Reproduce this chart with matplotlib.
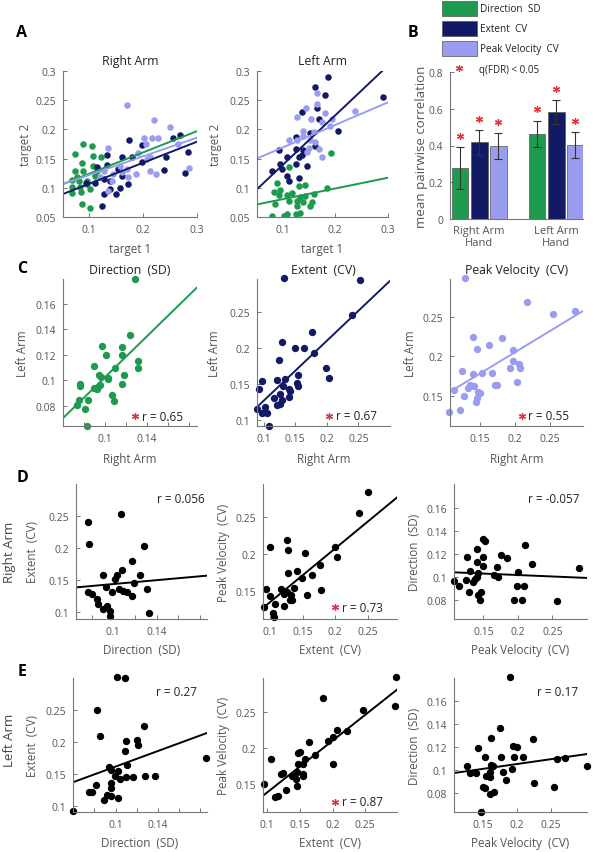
import numpy as np
import matplotlib.pyplot as plt
from matplotlib.patches import Rectangle

plt.rcParams['font.family'] = ['Open Sans', 'DejaVu Sans']

GREEN = '#1d9a4e'
NAVY = '#121a66'
LIGHT = '#9a9cf0'
RED = '#e0303a'

# ---- A: target 1 vs target 2 ----
a_right_dir_x = [0.074, 0.0895, 0.106, 0.108, 0.122, 0.088, 0.074, 0.0895, 0.108, 0.069, 0.082, 0.096, 0.111,
                 0.068, 0.083, 0.096, 0.068, 0.086, 0.088, 0.102, 0.077, 0.114, 0.102]
a_right_dir_y = [0.158, 0.175, 0.171, 0.154, 0.152, 0.142, 0.128, 0.128, 0.138, 0.113, 0.111, 0.111, 0.121,
                 0.102, 0.102, 0.107, 0.091, 0.092, 0.073, 0.065, 0.118, 0.129, 0.098]
a_right_ext_x = [0.175, 0.198, 0.256, 0.268, 0.284, 0.243, 0.133, 0.161, 0.179, 0.198, 0.154, 0.133, 0.114,
                 0.094, 0.111, 0.127, 0.161, 0.139, 0.173, 0.127, 0.151, 0.238, 0.278, 0.125, 0.139, 0.157]
a_right_ext_y = [0.182, 0.174, 0.185, 0.191, 0.161, 0.153, 0.156, 0.153, 0.152, 0.144, 0.132, 0.139, 0.136,
                 0.109, 0.109, 0.115, 0.121, 0.111, 0.107, 0.089, 0.089, 0.130, 0.126, 0.069, 0.098, 0.100]
a_right_pv_x = [0.171, 0.220, 0.250, 0.201, 0.216, 0.228, 0.206, 0.136, 0.191, 0.207, 0.265, 0.286, 0.145,
                0.161, 0.170, 0.188, 0.213, 0.225, 0.142, 0.136, 0.120, 0.173, 0.157, 0.127, 0.213]
a_right_pv_y = [0.242, 0.216, 0.204, 0.185, 0.185, 0.185, 0.175, 0.168, 0.159, 0.149, 0.175, 0.134, 0.124,
                0.127, 0.132, 0.123, 0.128, 0.124, 0.111, 0.095, 0.118, 0.118, 0.138, 0.128, 0.152]

a_left_dir_x = [0.192, 0.112, 0.090, 0.131, 0.143, 0.184, 0.084, 0.096, 0.093, 0.109, 0.118, 0.134, 0.143,
                0.159, 0.087, 0.112, 0.128, 0.140, 0.156, 0.128, 0.153, 0.081, 0.103, 0.109, 0.125, 0.134]
a_left_dir_y = [0.160, 0.136, 0.108, 0.103, 0.105, 0.099, 0.093, 0.097, 0.088, 0.088, 0.091, 0.085, 0.086,
                0.089, 0.072, 0.078, 0.078, 0.075, 0.076, 0.069, 0.068, 0.052, 0.052, 0.055, 0.055, 0.057]
a_left_ext_x = [0.187, 0.162, 0.180, 0.290, 0.165, 0.137, 0.169, 0.206, 0.125, 0.153, 0.162, 0.093, 0.125,
                0.140, 0.109, 0.131, 0.096, 0.081, 0.099, 0.125, 0.147, 0.109, 0.131, 0.112, 0.137]
a_left_ext_y = [0.289, 0.272, 0.259, 0.256, 0.236, 0.229, 0.218, 0.197, 0.187, 0.193, 0.171, 0.165, 0.166,
                0.164, 0.152, 0.152, 0.141, 0.129, 0.132, 0.141, 0.138, 0.121, 0.116, 0.112, 0.157]
a_left_pv_x = [0.165, 0.165, 0.145, 0.128, 0.155, 0.180, 0.194, 0.175, 0.191, 0.140, 0.112, 0.128, 0.153,
               0.162, 0.150, 0.169, 0.147, 0.175, 0.238, 0.140, 0.159]
a_left_pv_y = [0.262, 0.244, 0.236, 0.221, 0.218, 0.228, 0.218, 0.213, 0.205, 0.198, 0.181, 0.181, 0.181,
               0.178, 0.168, 0.166, 0.161, 0.152, 0.232, 0.189, 0.195]

# regression lines (slope, intercept) for Direction, Extent, Peak Velocity
a_right_fits = [(0.365, 0.0875), (0.361, 0.0706), (0.320, 0.0898)]
a_left_fits = [(0.184, 0.062), (0.854, 0.0532), (0.388, 0.130)]

# ---- B: mean pairwise correlation ----
b_groups = ['Right Arm\nHand', 'Left Arm\nHand']
b_measures = ['Direction  SD', 'Extent  CV', 'Peak Velocity  CV']
b_means = [[0.278, 0.464], [0.418, 0.582], [0.396, 0.404]]
b_errs = [[0.113, 0.072], [0.068, 0.066], [0.072, 0.07]]

# ---- C: right arm vs left arm ----
c_dir_x = [0.1286, 0.1238, 0.0975, 0.116, 0.101, 0.0895, 0.1165, 0.1095, 0.0946, 0.0962, 0.103, 0.131, 0.1314,
           0.0762, 0.0762, 0.0898, 0.0952, 0.103, 0.118, 0.1165, 0.107, 0.1086, 0.0752, 0.0841, 0.081, 0.0736,
           0.092, 0.0832]
c_dir_y = [0.1798, 0.136, 0.127, 0.126, 0.1196, 0.111, 0.120, 0.110, 0.104, 0.103, 0.102, 0.115, 0.110,
           0.0974, 0.0955, 0.0942, 0.0966, 0.1008, 0.104, 0.0976, 0.0885, 0.0838, 0.085, 0.085, 0.078, 0.081,
           0.093, 0.0642]
c_ext_x = [0.132, 0.252, 0.240, 0.176, 0.129, 0.149, 0.164, 0.179, 0.125, 0.199, 0.204, 0.155, 0.134, 0.122,
           0.098, 0.093, 0.153, 0.155, 0.130, 0.1395, 0.126, 0.142, 0.1395, 0.117, 0.129, 0.126, 0.121, 0.103,
           0.0896, 0.0975, 0.1054, 0.108]
c_ext_y = [0.297, 0.294, 0.246, 0.222, 0.208, 0.200, 0.200, 0.193, 0.184, 0.173, 0.158, 0.163, 0.157, 0.156,
           0.154, 0.144, 0.151, 0.147, 0.148, 0.143, 0.136, 0.141, 0.132, 0.1315, 0.128, 0.122, 0.121, 0.1185,
           0.116, 0.1097, 0.1107, 0.092]
c_pv_x = [0.1286, 0.2167, 0.2547, 0.2857, 0.1396, 0.181, 0.1633, 0.146, 0.1967, 0.1976, 0.2061, 0.2071, 0.1929,
          0.1239, 0.1396, 0.1524, 0.1667, 0.1714, 0.1747, 0.2024, 0.1357, 0.1419, 0.1333, 0.1476, 0.150, 0.1129,
          0.1271, 0.1462, 0.1438, 0.1214, 0.1062]
c_pv_y = [0.299, 0.2694, 0.2538, 0.258, 0.2243, 0.223, 0.2146, 0.2095, 0.208, 0.1947, 0.1905, 0.185, 0.1854,
          0.1813, 0.1778, 0.1787, 0.1787, 0.1639, 0.1639, 0.168, 0.1639, 0.1623, 0.1597, 0.1547, 0.1538, 0.1576,
          0.1504, 0.1471, 0.1428, 0.1323, 0.1301]
c_fits = [(0.803, 0.0223), (0.833, 0.0436), (0.538, 0.0978)]
c_r = ['r = 0.65', 'r = 0.67', 'r = 0.55']

# ---- D: right arm, between measures ----
d_dir_ext_x = [0.077, 0.0779, 0.1071, 0.1286, 0.117, 0.0908, 0.1037, 0.1016, 0.1083, 0.1246, 0.0933, 0.0985,
               0.1052, 0.1092, 0.1123, 0.117, 0.1191, 0.1308, 0.077, 0.0801, 0.0847, 0.0862, 0.0908, 0.0939,
               0.097, 0.097, 0.1332]
d_dir_ext_y = [0.2406, 0.2058, 0.2527, 0.2022, 0.1797, 0.1578, 0.1578, 0.151, 0.1656, 0.1578, 0.1381, 0.1303,
               0.1355, 0.1328, 0.1303, 0.125, 0.1448, 0.1355, 0.1313, 0.1277, 0.1198, 0.112, 0.1042, 0.1094,
               0.1016, 0.0938, 0.098]
d_ext_pv_x = [0.2495, 0.2367, 0.1257, 0.0998, 0.1283, 0.154, 0.1989, 0.2031, 0.1768, 0.1423, 0.1277, 0.1639,
              0.1485, 0.0947, 0.1175, 0.137, 0.1268, 0.1319, 0.1215, 0.1783, 0.1562, 0.0998, 0.1308, 0.1345,
              0.1087, 0.1215, 0.0916, 0.1051, 0.1071]
d_ext_pv_y = [0.2849, 0.2555, 0.2195, 0.210, 0.2059, 0.2014, 0.210, 0.1969, 0.1854, 0.1772, 0.1741, 0.1714,
              0.1683, 0.1537, 0.1533, 0.1546, 0.1486, 0.1455, 0.1469, 0.1523, 0.1455, 0.1432, 0.1377, 0.1377,
              0.1332, 0.1305, 0.1287, 0.1206, 0.1151]
d_pv_dir_x = [0.150, 0.1525, 0.2104, 0.1413, 0.1259, 0.1491, 0.1752, 0.1839, 0.2201, 0.2891, 0.1413, 0.1694,
              0.1491, 0.1307, 0.1655, 0.1717, 0.1999, 0.1404, 0.1428, 0.1346, 0.138, 0.108, 0.1148, 0.1245,
              0.1293, 0.1462, 0.1428, 0.1452, 0.1984, 0.2094, 0.1949, 0.2057, 0.2572]
d_pv_dir_y = [0.1328, 0.1308, 0.1278, 0.1241, 0.1169, 0.1169, 0.1189, 0.1163, 0.111, 0.1078, 0.113, 0.1087,
              0.1096, 0.1052, 0.1017, 0.0995, 0.1038, 0.100, 0.1032, 0.0951, 0.098, 0.096, 0.0922, 0.0974,
              0.087, 0.087, 0.0841, 0.080, 0.0922, 0.0922, 0.080, 0.080, 0.0786]
d_fits = [(0.152, 0.128), (0.731, 0.0619), (-0.0253, 0.1065)]
d_r = ['r = 0.056', 'r = 0.73', 'r = -0.057']

# ---- E: left arm, between measures ----
e_dir_ext_x = [0.1016, 0.1085, 0.0825, 0.1274, 0.0858, 0.1101, 0.1205, 0.1211, 0.1094, 0.1107, 0.0943, 0.0959,
               0.1028, 0.0991, 0.1038, 0.1101, 0.1164, 0.128, 0.1377, 0.1856, 0.0959, 0.0811, 0.0959, 0.0745,
               0.0777, 0.0922, 0.0953, 0.0887, 0.1023, 0.0598]
e_dir_ext_y = [0.3013, 0.2988, 0.250, 0.2242, 0.2096, 0.2019, 0.2034, 0.1952, 0.1863, 0.1646, 0.1606, 0.1568,
               0.1553, 0.1475, 0.1424, 0.145, 0.145, 0.1475, 0.1475, 0.1745, 0.1362, 0.1335, 0.128, 0.1217,
               0.1227, 0.118, 0.1165, 0.1098, 0.1124, 0.0922]
e_ext_pv_x = [0.0944, 0.1065, 0.1115, 0.1166, 0.1218, 0.1244, 0.1295, 0.1372, 0.1474, 0.1474, 0.2977, 0.2951,
              0.2474, 0.2218, 0.2074, 0.2013, 0.1926, 0.1849, 0.1638, 0.1731, 0.2003, 0.150, 0.1577, 0.1551,
              0.1449, 0.1541, 0.1551, 0.1438, 0.1449]
e_ext_pv_y = [0.150, 0.185, 0.1315, 0.133, 0.164, 0.166, 0.142, 0.1616, 0.194, 0.178, 0.2999, 0.2585, 0.2538,
              0.2236, 0.2254, 0.2152, 0.2105, 0.2697, 0.2091, 0.1905, 0.178, 0.1943, 0.1849, 0.178, 0.1663,
              0.164, 0.1608, 0.157, 0.1477]
e_pv_dir_x = [0.189, 0.1754, 0.1623, 0.1427, 0.1525, 0.1759, 0.1949, 0.1939, 0.2003, 0.2231, 0.1272, 0.1306,
              0.1404, 0.1623, 0.1646, 0.1598, 0.155, 0.1598, 0.1792, 0.1832, 0.193, 0.150, 0.1525, 0.1598,
              0.1656, 0.1477, 0.2246, 0.2548, 0.2588, 0.2709, 0.3026, 0.2085]
e_pv_dir_y = [0.1811, 0.1365, 0.1278, 0.1189, 0.111, 0.1116, 0.1116, 0.1211, 0.1203, 0.127, 0.1037, 0.0974,
              0.0974, 0.1046, 0.1037, 0.098, 0.095, 0.0937, 0.0985, 0.0913, 0.1009, 0.085, 0.0841, 0.0791,
              0.0811, 0.0637, 0.0887, 0.085, 0.1096, 0.1104, 0.1032, 0.1116]
e_fits = [(0.604, 0.1012), (0.721, 0.0663), (0.0846, 0.0883)]
e_r = ['r = 0.27', 'r = 0.87', 'r = 0.17']

W, H = 593, 853
fig = plt.figure(figsize=(W / 100, H / 100), dpi=100)

TICK_FS = 7.5
LAB_FS = 8.4
TITLE_FS = 8.8


def box(l, t, r, b):
    return fig.add_axes([l / W, 1 - b / H, (r - l) / W, (b - t) / H])


def style(ax, l, t, r, b, xl=None, yl=None, yfs=LAB_FS):
    for s in ['top', 'right']:
        ax.spines[s].set_visible(False)
    for s in ['left', 'bottom']:
        ax.spines[s].set_color('#777777')
        ax.spines[s].set_linewidth(0.8)
    ax.tick_params(direction='in', length=3, width=0.7, colors='#777777', labelcolor='#555555',
                   labelsize=TICK_FS)
    ax.tick_params(axis='y', pad=5)
    ax.tick_params(axis='x', pad=5)
    if xl is not None:
        ax.set_xlabel(xl[0], fontsize=LAB_FS, color='#555555', va='center')
        ax.xaxis.set_label_coords(0.5, (b - xl[1]) / (b - t))
    if yl is not None:
        ax.set_ylabel(yl[0], fontsize=yfs, color='#555555', va='center')
        ax.yaxis.set_label_coords((yl[1] - l) / (r - l), 0.5)


def fitline(ax, fit, color):
    xs = np.array(ax.get_xlim())
    ax.plot(xs, fit[0] * xs + fit[1], color=color, lw=1.4, clip_on=True)


def star_r(ax, fx, fy, txt, star):
    if star:
        ax.plot(fx, fy, marker=(6, 2, 0), color=RED, ms=5, mew=0.9, transform=ax.transAxes, clip_on=False)
        ax.text(fx + 0.05, fy, txt, transform=ax.transAxes, fontsize=8.5, va='center', ha='left', color='#222222')
    else:
        ax.text(fx, fy, txt, transform=ax.transAxes, fontsize=8.5, va='center', ha='right', color='#222222')


def fmt(v):
    return '%g' % v


colors = [GREEN, NAVY, LIGHT]

# ---------- A ----------
a_sets = [
    ((63, 72, 197, 218), 'Right Arm', 25, [(a_right_dir_x, a_right_dir_y), (a_right_ext_x, a_right_ext_y),
                                           (a_right_pv_x, a_right_pv_y)], a_right_fits),
    ((257, 72, 388, 218), 'Left Arm', 215, [(a_left_dir_x, a_left_dir_y), (a_left_ext_x, a_left_ext_y),
                                           (a_left_pv_x, a_left_pv_y)], a_left_fits),
]
for (l, t, r, b), title, ylx, series, fits in a_sets:
    ax = box(l, t, r, b)
    ax.set_xlim(0.052, 0.3)
    ax.set_ylim(0.05, 0.3)
    for (x, y), c in zip(series, colors):
        ax.scatter(x, y, s=22, color=c, lw=0, zorder=2)
    for f, c in zip(fits, colors):
        fitline(ax, f, c)
    ax.set_xticks([0.1, 0.2, 0.3])
    ax.set_xticklabels(['0.1', '0.2', '0.3'])
    ax.set_yticks([0.05, 0.1, 0.15, 0.2, 0.25, 0.3])
    ax.set_yticklabels(['0.05', '0.1', '0.15', '0.2', '0.25', '0.3'])
    style(ax, l, t, r, b, xl=('target 1', 250), yl=('target 2', ylx))
    ax.set_title(title, fontsize=TITLE_FS, color='#222222', pad=5)

# ---------- B ----------
l, t, r, b = 450, 73, 583, 220
ax = box(l, t, r, b)
gx = np.array([1.0, 2.0])
offs = [-0.247, 0.0, 0.247]
for i, c in enumerate(colors):
    xs = gx + offs[i]
    m = np.array(b_means[i])
    e = np.array(b_errs[i])
    ax.bar(xs, m, width=0.22, color=c, edgecolor='#555555', lw=0.5, zorder=2)
    ax.errorbar(xs, m, yerr=e, fmt='none', ecolor='#333333', elinewidth=0.8, capsize=3, capthick=0.8, zorder=3)
    ax.plot(xs, m + e + 0.06, ls='none', marker=(6, 2, 0), color=RED, ms=5, mew=0.9, zorder=4)
ax.set_xlim(0.623, 2.35)
ax.set_ylim(0, 0.8)
ax.set_xticks(gx)
ax.set_xticklabels(b_groups)
ax.set_yticks([0, 0.2, 0.4, 0.6, 0.8])
ax.set_yticklabels(['0', '0.2', '0.4', '0.6', '0.8'])
style(ax, l, t, r, b, yl=('mean pairwise correlation', 421), yfs=9.5)
ax.tick_params(axis='x', length=0, labelsize=8, pad=4)
ax.plot(0.065, 1.03, marker=(6, 2, 0), color=RED, ms=5, mew=0.9, transform=ax.transAxes, clip_on=False)
ax.text(0.22, 1.02, 'q(FDR) < 0.05', transform=ax.transAxes, fontsize=7, va='center', color='#222222')

for i, (c, lab) in enumerate(zip(colors, b_measures)):
    y0 = 2 + i * 20
    fig.add_artist(Rectangle((442 / W, 1 - (y0 + 15) / H), 35 / W, 15 / H, transform=fig.transFigure,
                             facecolor=c, edgecolor='#555555', lw=0.5))
    fig.text(480 / W, 1 - (y0 + 7.5) / H, lab, fontsize=7.2, va='center', color='#222222')

# ---------- C ----------
c_boxes = [(63, 280, 197, 427), (257, 280, 390, 427), (450, 280, 583, 427)]
c_data = [(c_dir_x, c_dir_y), (c_ext_x, c_ext_y), (c_pv_x, c_pv_y)]
c_titles = ['Direction  (SD)', 'Extent  (CV)', 'Peak Velocity  (CV)']
c_lims = [((0.06, 0.1876), (0.0643, 0.1796)), ((0.0896, 0.300), (0.092, 0.296)), ((0.107, 0.297), (0.112, 0.298))]
c_xt = [[0.08, 0.1, 0.12, 0.14, 0.16, 0.18], [0.1, 0.15, 0.2, 0.25], [0.15, 0.2, 0.25]]
c_xtl = [['', '0.1', '', '0.14', '', ''], ['0.1', '0.15', '0.2', '0.25'], ['0.15', '0.2', '0.25']]
c_yt = [[0.08, 0.1, 0.12, 0.14, 0.16], [0.1, 0.15, 0.2, 0.25], [0.15, 0.2, 0.25]]
c_ylx = [22, 215, 410]
c_star = [(0.537, 0.068), (0.544, 0.07), (0.539, 0.07)]
for k in range(3):
    l, t, r, b = c_boxes[k]
    ax = box(l, t, r, b)
    ax.set_xlim(*c_lims[k][0])
    ax.set_ylim(*c_lims[k][1])
    ax.scatter(c_data[k][0], c_data[k][1], s=28, color=colors[k], lw=0, zorder=2, clip_on=False)
    fitline(ax, c_fits[k], colors[k])
    ax.set_xticks(c_xt[k])
    ax.set_xticklabels(c_xtl[k])
    ax.set_yticks(c_yt[k])
    ax.set_yticklabels([fmt(v) for v in c_yt[k]])
    style(ax, l, t, r, b, xl=('Right Arm', 460), yl=('Left Arm', c_ylx[k]))
    ax.set_title(c_titles[k], fontsize=TITLE_FS, color='#222222', pad=4)
    star_r(ax, c_star[k][0], c_star[k][1], c_r[k], True)

# ---------- D & E ----------
de_xlabels = ['Direction  (SD)', 'Extent  (CV)', 'Peak Velocity  (CV)']
de_ylabels = ['Extent  (CV)', 'Peak Velocity  (CV)', 'Direction  (SD)']
de_xt = [[0.08, 0.1, 0.12, 0.14, 0.16, 0.18], [0.1, 0.15, 0.2, 0.25], [0.15, 0.2, 0.25]]
de_xtl = [['', '0.1', '', '0.14', '', ''], ['0.1', '0.15', '0.2', '0.25'], ['0.15', '0.2', '0.25']]
de_yt = [[0.1, 0.15, 0.2, 0.25], [0.15, 0.2, 0.25], [0.08, 0.1, 0.12, 0.14, 0.16]]

rows = [
    dict(boxes=[(76, 485, 207, 620), (263, 485, 397, 620), (454, 485, 587, 620)],
         data=[(d_dir_ext_x, d_dir_ext_y), (d_ext_pv_x, d_ext_pv_y), (d_pv_dir_x, d_pv_dir_y)],
         lims=[((0.0656, 0.1864), (0.0886, 0.2995)), ((0.0896, 0.2944), (0.1124, 0.2954)),
               ((0.1075, 0.300), (0.0632, 0.1806))],
         fits=d_fits, rs=d_r, stars=[False, True, False],
         rpos=[(0.985, 0.889), (0.537, 0.087), (0.947, 0.889)], xly=651, ylx=[33, 223, 415]),
    dict(boxes=[(73, 679, 207, 813), (263, 679, 397, 813), (454, 679, 587, 813)],
         data=[(e_dir_ext_x, e_dir_ext_y), (e_ext_pv_x, e_ext_pv_y), (e_pv_dir_x, e_pv_dir_y)],
         lims=[((0.0598, 0.1865), (0.0911, 0.2992)), ((0.0935, 0.2988), (0.111, 0.298)),
               ((0.1076, 0.3026), (0.0635, 0.180))],
         fits=e_fits, rs=e_r, stars=[False, True, False],
         rpos=[(0.925, 0.896), (0.537, 0.077), (0.932, 0.896)], xly=844, ylx=[33, 223, 415]),
]
for row in rows:
    for k in range(3):
        l, t, r, b = row['boxes'][k]
        ax = box(l, t, r, b)
        ax.set_xlim(*row['lims'][k][0])
        ax.set_ylim(*row['lims'][k][1])
        ax.scatter(row['data'][k][0], row['data'][k][1], s=28, color='black', lw=0, zorder=2, clip_on=False)
        fitline(ax, row['fits'][k], 'black')
        ax.set_xticks(de_xt[k])
        ax.set_xticklabels(de_xtl[k])
        ax.set_yticks(de_yt[k])
        ax.set_yticklabels([fmt(v) for v in de_yt[k]])
        style(ax, l, t, r, b, xl=(de_xlabels[k], row['xly']), yl=(de_ylabels[k], row['ylx'][k]))
        star_r(ax, row['rpos'][k][0], row['rpos'][k][1], row['rs'][k], row['stars'][k])

fig.text(10 / W, 1 - 552 / H, 'Right Arm', rotation=90, fontsize=9.5, color='#444444', ha='center', va='center')
fig.text(10 / W, 1 - 740 / H, 'Left Arm', rotation=90, fontsize=9.5, color='#444444', ha='center', va='center')

for letter, (x, y) in zip('ABCDE', [(22, 33), (413, 33), (22, 269), (22, 478), (22, 672)]):
    fig.text(x / W, 1 - y / H, letter, fontsize=11.5, fontweight='bold', ha='center', va='center', color='black')

fig.savefig('out.png', dpi=100, facecolor='white')
